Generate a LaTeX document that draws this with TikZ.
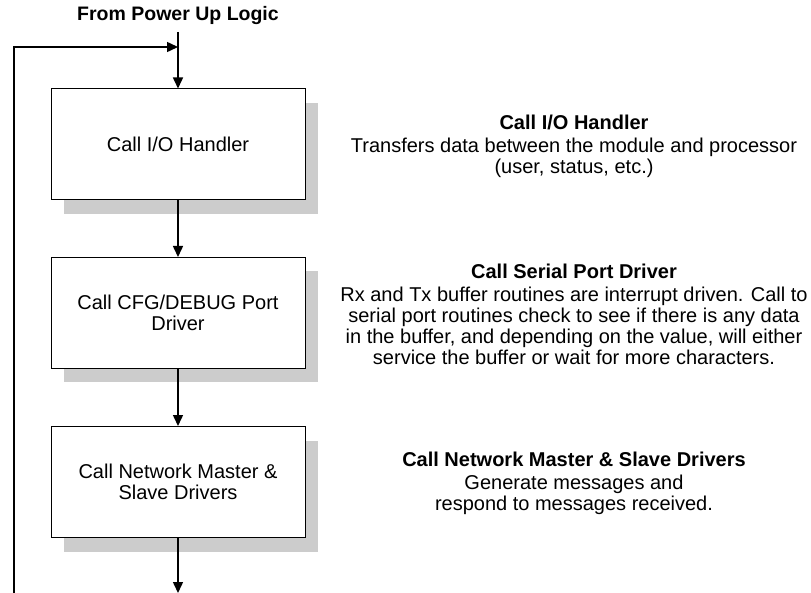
\documentclass[tikz,border=0pt]{standalone}
\usepackage{fontspec}
\setmainfont{Liberation Sans}
\usetikzlibrary{arrows.meta,shadows}

\begin{document}
\begin{tikzpicture}[x=1pt,y=-1pt,
  every node/.style={font=\fontsize{20}{21}\selectfont},
  box/.style={draw,line width=1pt,fill=white,minimum width=254pt,minimum height=111pt,align=center,
    drop shadow={shadow xshift=13pt,shadow yshift=-14pt,fill=black!20,opacity=1}},
  desc/.style={align=center},
  conn/.style={line width=1.5pt,-{Triangle[length=11pt,width=10pt]}}]
\useasboundingbox (0,0) rectangle (811,593);
\node[font=\fontsize{19.5}{21}\selectfont\bfseries,inner sep=0pt] (pwr) at (178,16) {From Power Up Logic};
\node[box] (io) at (178,144.5) {Call I/O Handler};
\node[box] (cfg) at (178,313) {Call CFG/DEBUG Port\\Driver};
\node[box] (net) at (178,482) {Call Network Master \&\\Slave Drivers};
% descriptions beside the boxes
\node[desc] (dio) at (574,146) {\textbf{Call I/O Handler}\\[2pt]Transfers data between the module and processor\\(user, status, etc.)};
\node[desc] (dcfg) at (574,314) {\textbf{Call Serial Port Driver}\\[2pt]Rx and Tx buffer routines are interrupt driven. Call to\\serial port routines check to see if there is any data\\in the buffer, and depending on the value, will either\\service the buffer or wait for more characters.};
\node[desc] (dnet) at (574,483) {\textbf{Call Network Master \& Slave Drivers}\\[2pt]Generate messages and\\respond to messages received.};
% connectors
\coordinate (start) at (178,32);
\coordinate (join) at (178,47);
\coordinate (loop) at (14,593);
\coordinate (out) at (178,593);
\draw[conn] (start) -- (io.north);
\draw[conn] (io) -- (cfg);
\draw[conn] (cfg) -- (net);
\draw[conn] (net) -- (out);
\draw[conn] (loop) |- (join);
\end{tikzpicture}
\end{document}
